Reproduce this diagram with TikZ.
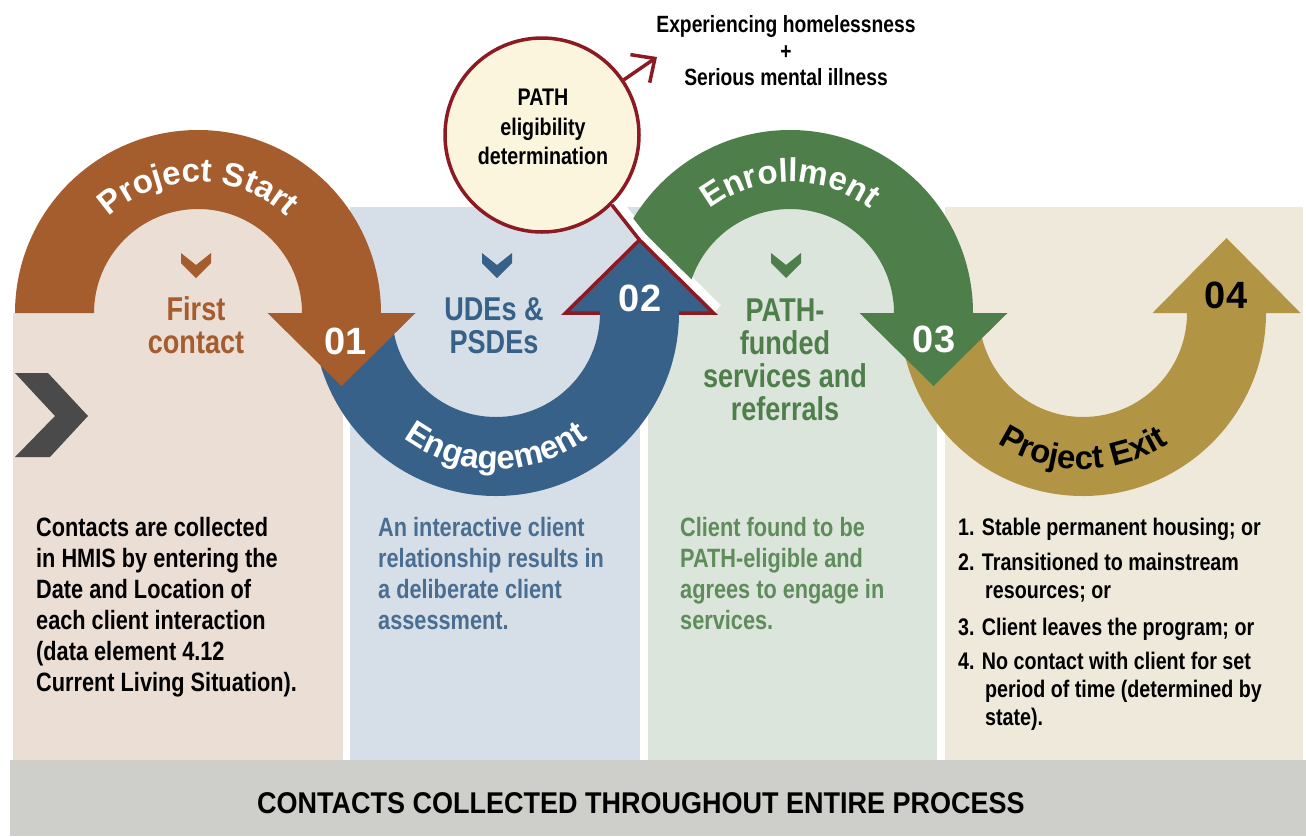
\documentclass[tikz,border=0pt]{standalone}
\usepackage{fontspec}
\setmainfont{Liberation Sans}[FakeStretch=0.82]
\newfontfamily\widefont{Liberation Sans}
\newfontfamily\barfont{Liberation Sans}[FakeStretch=0.9]
\usetikzlibrary{calc,decorations.text,arrows.meta}

\definecolor{startbrown}{HTML}{A65D2E}
\definecolor{engblue}{HTML}{386189}
\definecolor{enrgreen}{HTML}{4E7F4B}
\definecolor{exitgold}{HTML}{B29544}
\definecolor{pathred}{HTML}{8C1A22}
\definecolor{pathcream}{HTML}{FBF5DE}
\definecolor{panelone}{HTML}{EBDED5}
\definecolor{paneltwo}{HTML}{D6DFE7}
\definecolor{panelthree}{HTML}{DCE5DC}
\definecolor{panelfour}{HTML}{EFE9DB}
\definecolor{barband}{HTML}{CECECA}
\definecolor{chevgray}{HTML}{4A4A4A}
\definecolor{bluetext}{HTML}{4A6E91}
\definecolor{greentext}{HTML}{5F8C5B}

\newcommand\arcfont{\widefont\bfseries\fontsize{33}{33}\selectfont}
\tikzset{
  head/.style={align=center, inner sep=0pt, font=\bfseries\fontsize{33}{33}\selectfont},
  body/.style={align=left, anchor=north west, inner sep=0pt, font=\bfseries\fontsize{26.5}{31}\selectfont},
  stepnum/.style={inner sep=0pt, font=\widefont\bfseries\fontsize{38}{38}\selectfont},
  redline/.style={pathred, line width=3.5pt},
  arclabel/.style={decorate, decoration={text along path, text align=center, text color=#1}}
}

\begin{document}
\begin{tikzpicture}[x=1pt, y=1pt]
    \useasboundingbox (0,0) rectangle (1306,-836);
    \coordinate (c1) at (198,-313);
    \coordinate (c2) at (496,-313);
    \coordinate (c3) at (790,-313);
    \coordinate (c4) at (1083,-313);
    \coordinate (tip2) at (639.5,-240);
    \coordinate (base2) at (713.5,-313);
    \coordinate (crit) at (657,-57);

    % columns
    \fill[panelone] (13,-313) rectangle (343,-760);
    \fill[panelone] (c1) circle[radius=110];
    \fill[paneltwo] (350,-207) rectangle (640,-760);
    \fill[panelthree] (648,-207) rectangle (937,-760);
    \fill[panelfour] (945,-207) rectangle (1303,-760);
    \fill[barband] (10,-760) rectangle (1306,-836);

    \node[circle, draw=pathred, line width=3.5pt, fill=pathcream, minimum size=194pt, inner sep=0pt] (elig) at (542,-135) {};
    \coordinate (hA) at (elig.-45);
    \draw[white, line width=10pt] ([shift={(4,4)}]hA) -- ([shift={(4,4)}]tip2) -- ([shift={(4,4)}]base2);

    % the four arcs
    \fill[engblue] ($(c2)+(-183,0)$) arc[start angle=180, end angle=360, radius=183]
      -- ++(34.5,0) -- ++(-74,73) -- ++(-74,-73) -- ++(34.5,0)
      arc[start angle=360, end angle=180, radius=104] -- cycle;
    \fill[startbrown] ($(c1)+(-183,0)$) arc[start angle=180, end angle=0, radius=183]
      -- ++(34.5,0) -- ++(-74,-73) -- ++(-74,73) -- ++(34.5,0)
      arc[start angle=0, end angle=180, radius=104] -- cycle;
    \fill[exitgold] ($(c4)+(-183,0)$) arc[start angle=180, end angle=360, radius=183]
      -- ++(34.5,0) -- ++(-74,75) -- ++(-74,-75) -- ++(34.5,0)
      arc[start angle=360, end angle=180, radius=104] -- cycle;
    \begin{scope}
      \clip ([shift={(6,6)}]hA) -- ([shift={(6,6)}]tip2) -- ([shift={(6,6)}]base2)
        -- (780,-400) -- (1100,-400) -- (1100,0) -- (600,0) -- cycle;
      \fill[enrgreen] ($(c3)+(-183,0)$) arc[start angle=180, end angle=0, radius=183]
        -- ++(34.5,0) -- ++(-74,-73) -- ++(-74,73) -- ++(34.5,0)
        arc[start angle=0, end angle=180, radius=104] -- cycle;
    \end{scope}
    \draw[redline] (600,-313) -- (565.5,-313) -- (tip2) -- (base2) -- (679,-313);
    \draw[redline] (hA) -- (tip2);
    \draw[redline, -{Straight Barb[length=18pt, width=34pt]}] (elig.34) -- (crit);

    \path[arclabel=white, decoration={text={|\arcfont|Project Start}}] ($(c1)+(-131,0)$) arc[start angle=180, end angle=0, radius=131];
    \path[arclabel=white, decoration={text={|\arcfont|Engagement}}] ($(c2)+(-156,0)$) arc[start angle=180, end angle=360, radius=156];
    \path[arclabel=white, decoration={text={|\arcfont|Enrollment}}] ($(c3)+(-131,0)$) arc[start angle=180, end angle=0, radius=131];
    \path[arclabel=black, decoration={text={|\arcfont|Project Exit}}] ($(c4)+(-156,0)$) arc[start angle=180, end angle=360, radius=156];

    \node[stepnum, text=white] (n1) at (346,-341) {01};
    \node[stepnum, text=white] (n2) at (640,-298) {02};
    \node[stepnum, text=white] (n3) at (934,-339) {03};
    \node[stepnum, text=black] (n4) at (1226,-295) {04};

    % markers
    \fill[chevgray] (15,-373) -- (48,-373) -- (88,-416) -- (50,-457) -- (15,-457) -- (55,-416) -- cycle;
    \foreach \x/\c in {196/startbrown, 497/engblue, 786/enrgreen}
      \fill[\c] (\x-15,-253) -- (\x,-265) -- (\x+15,-253) -- (\x+15,-263) -- (\x,-278) -- (\x-15,-263) -- cycle;

    \node[align=center, inner sep=0pt, font=\bfseries\fontsize{24}{29.5}\selectfont] (eligtxt) at (543,-127) {PATH\\eligibility\\determination};
    \node[align=center, inner sep=0pt, font=\bfseries\fontsize{23.5}{26.5}\selectfont] (criteria) at (786,-51) {Experiencing homelessness\\+\\Serious mental illness};

    \node[head, text=startbrown] (first) at (196,-325) {First\\contact};
    \node[head, text=engblue] (udes) at (494,-326) {UDEs \&\\PSDEs};
    \node[head, text=enrgreen] (funded) at (785,-360) {PATH-\\funded\\services and\\referrals};

    \node[body] (contacts) at (36,-517) {Contacts are collected\\in HMIS by entering the\\Date and Location of\\each client interaction\\(data element 4.12\\Current Living Situation).};
    \node[body, text=bluetext] (interact) at (378,-517) {An interactive client\\relationship results in\\a deliberate client\\assessment.};
    \node[body, text=greentext] (eligible) at (680,-517) {Client found to be\\PATH-eligible and\\agrees to engage in\\services.};
    \node[body, font=\bfseries\fontsize{24}{28}\selectfont] (exits) at (958,-518) {1. Stable permanent housing; or\\[7pt]2. Transitioned to mainstream\\\hspace*{27pt}resources; or\\[9pt]3. Client leaves the program; or\\[6pt]4. No contact with client for set\\\hspace*{27pt}period of time (determined by\\\hspace*{27pt}state).};

    \node[font=\barfont\bfseries\fontsize{30}{30}\selectfont] (process) at (641,-803) {CONTACTS COLLECTED THROUGHOUT ENTIRE PROCESS};
\end{tikzpicture}
\end{document}
